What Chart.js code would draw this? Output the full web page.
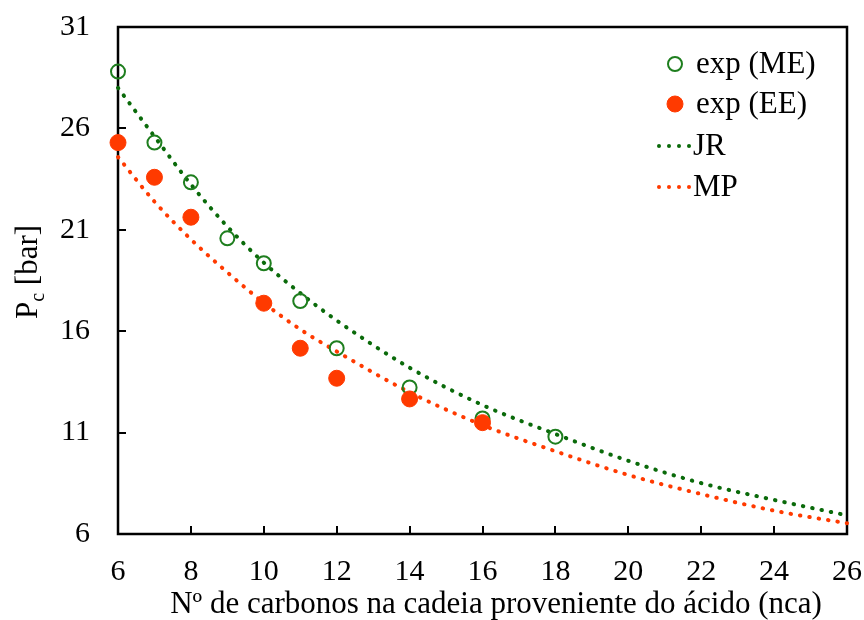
<!DOCTYPE html>
<html>
<head>
<meta charset="utf-8">
<script src="https://cdn.jsdelivr.net/npm/chart.js@4.4.1/dist/chart.umd.min.js"></script>
<style>
  html, body { margin: 0; padding: 0; background: #fff; }
  #wrap { width: 864px; height: 620px; }
</style>
</head>
<body>
<div id="wrap"><canvas id="chart" width="864" height="620"></canvas></div>
<script>
// experimental points (nca, Pc in bar)
const meX = [6, 7, 8, 9, 10, 11, 12, 14, 16, 18];
const meY = [28.8, 25.3, 23.34, 20.58, 19.35, 17.49, 15.16, 13.23, 11.7, 10.8];
const eeX = [6, 7, 8, 10, 11, 12, 14, 16];
const eeY = [25.3, 23.59, 21.62, 17.38, 15.16, 13.68, 12.66, 11.49];

// model curves
const curveX = [6, 7, 8, 9, 10, 11, 12, 14, 16, 18, 20, 22, 24, 26];
const jrY = [28.0, 25.6, 23.24, 21.16, 19.38, 17.88, 16.53, 14.2, 12.36, 10.93, 9.61, 8.51, 7.68, 6.92];
const mpY = [24.59, 22.39, 20.53, 18.9, 17.4, 16.09, 15.0, 12.99, 11.37, 10.08, 8.91, 7.97, 7.15, 6.53];

const xTicks = [6, 8, 10, 12, 14, 16, 18, 20, 22, 24, 26];
const yTicks = [6, 11, 16, 21, 26, 31];

const GREEN = "#1e7e1e";
const GREEN_LINE = "#0a6a0a";
const ORANGE = "#ff3a00";
const FONT = "'Liberation Serif', 'Times New Roman', serif";

const toPts = (xs, ys) => xs.map((x, i) => ({ x: x, y: ys[i] }));

// box, inner tick marks, axis titles and legend
const decor = {
  id: "decor",
  beforeDatasetsDraw(chart) {
    const { ctx, chartArea: a, scales } = chart;
    ctx.save();
    ctx.strokeStyle = "#000";
    ctx.lineWidth = 2.5;
    ctx.strokeRect(a.left, a.top, a.right - a.left, a.bottom - a.top);
    ctx.lineWidth = 2;
    ctx.beginPath();
    xTicks.forEach((v) => {
      const px = Math.round(scales.x.getPixelForValue(v));
      ctx.moveTo(px, a.bottom);
      ctx.lineTo(px, a.bottom - 8);
    });
    yTicks.forEach((v) => {
      const py = Math.round(scales.y.getPixelForValue(v));
      ctx.moveTo(a.left, py);
      ctx.lineTo(a.left + 8, py);
    });
    ctx.stroke();
    ctx.restore();
  },
  afterDraw(chart) {
    const { ctx } = chart;
    ctx.save();
    ctx.fillStyle = "#000";

    // x title
    ctx.font = "31px " + FONT;
    ctx.textAlign = "center";
    ctx.textBaseline = "alphabetic";
    ctx.fillText("Nº de carbonos na cadeia proveniente do ácido (nca)", 496, 613);

    // y title with subscript
    ctx.translate(37, 272);
    ctx.rotate(-Math.PI / 2);
    ctx.textAlign = "left";
    const big = "31px " + FONT, small = "20px " + FONT;
    ctx.font = big;
    const wP = ctx.measureText("P").width;
    const wRest = ctx.measureText(" [bar]").width;
    ctx.font = small;
    const wc = ctx.measureText("c").width;
    let x0 = -(wP + wc + wRest) / 2;
    ctx.font = big;
    ctx.fillText("P", x0, 0);
    ctx.font = small;
    ctx.fillText("c", x0 + wP, 7);
    ctx.font = big;
    ctx.fillText(" [bar]", x0 + wP + wc, 0);
    ctx.restore();

    // legend
    ctx.save();
    ctx.font = "31px " + FONT;
    ctx.textBaseline = "middle";
    ctx.fillStyle = "#000";
    const rows = [64, 104, 146, 187];
    chart.data.datasets.forEach((ds, i) => {
      const y = rows[i];
      if (ds.showLine) {
        ctx.fillStyle = ds.borderColor;
        for (let k = 0; k < 4; k++) {
          ctx.beginPath();
          ctx.arc(659 + k * 10, y, 2, 0, Math.PI * 2);
          ctx.fill();
        }
        ctx.fillStyle = "#000";
        ctx.fillText(ds.label, 693, y + 1);
      } else {
        ctx.beginPath();
        ctx.arc(675, y, ds.pointRadius, 0, Math.PI * 2);
        if (ds.pointBackgroundColor !== "transparent") {
          ctx.fillStyle = ds.pointBackgroundColor;
          ctx.fill();
        }
        ctx.lineWidth = ds.pointBorderWidth;
        ctx.strokeStyle = ds.pointBorderColor;
        ctx.stroke();
        ctx.fillStyle = "#000";
        ctx.fillText(ds.label, 696, y + 1);
      }
    });
    ctx.restore();
  }
};

new Chart(document.getElementById("chart").getContext("2d"), {
  type: "scatter",
  data: {
    datasets: [
      {
        label: "exp (ME)",
        data: toPts(meX, meY),
        showLine: false,
        pointRadius: 7,
        pointBorderWidth: 2,
        pointBorderColor: GREEN,
        pointBackgroundColor: "transparent",
        clip: false,
        order: 2,
      },
      {
        label: "exp (EE)",
        data: toPts(eeX, eeY),
        showLine: false,
        pointRadius: 8,
        pointBorderWidth: 1,
        pointBorderColor: ORANGE,
        pointBackgroundColor: ORANGE,
        clip: false,
        order: 1,
      },
      {
        label: "JR",
        data: toPts(curveX, jrY),
        showLine: true,
        borderColor: GREEN_LINE,
        borderWidth: 4,
        borderDash: [0.5, 9],
        borderCapStyle: "round",
        cubicInterpolationMode: "monotone",
        pointRadius: 0,
        clip: false,
        order: 3,
      },
      {
        label: "MP",
        data: toPts(curveX, mpY),
        showLine: true,
        borderColor: ORANGE,
        borderWidth: 4,
        borderDash: [0.5, 9],
        borderCapStyle: "round",
        cubicInterpolationMode: "monotone",
        pointRadius: 0,
        clip: false,
        order: 4,
      },
    ],
  },
  options: {
    responsive: false,
    animation: false,
    layout: { padding: { left: 0, top: 27, right: 17, bottom: 0 } },
    plugins: {
      legend: { display: false },
      tooltip: { enabled: false },
    },
    scales: {
      x: {
        type: "linear",
        min: 6,
        max: 26,
        afterBuildTicks: (s) => { s.ticks = xTicks.map((v) => ({ value: v })); },
        afterFit: (s) => {
          s.height = 86;
          s.paddingLeft = 0;
          s.paddingRight = 0;
        },
        grid: { display: false, drawTicks: false },
        border: { display: false },
        ticks: {
          color: "#000",
          padding: 20,
          font: { family: FONT, size: 30 },
        },
      },
      y: {
        type: "linear",
        min: 6,
        max: 31,
        afterBuildTicks: (s) => { s.ticks = yTicks.map((v) => ({ value: v })); },
        afterFit: (s) => {
          s.width = 118;
          s.paddingTop = 0;
          s.paddingBottom = 0;
        },
        grid: { display: false, drawTicks: false },
        border: { display: false },
        ticks: {
          color: "#000",
          padding: 28,
          font: { family: FONT, size: 30 },
        },
      },
    },
  },
  plugins: [decor],
});
</script>
</body>
</html>
